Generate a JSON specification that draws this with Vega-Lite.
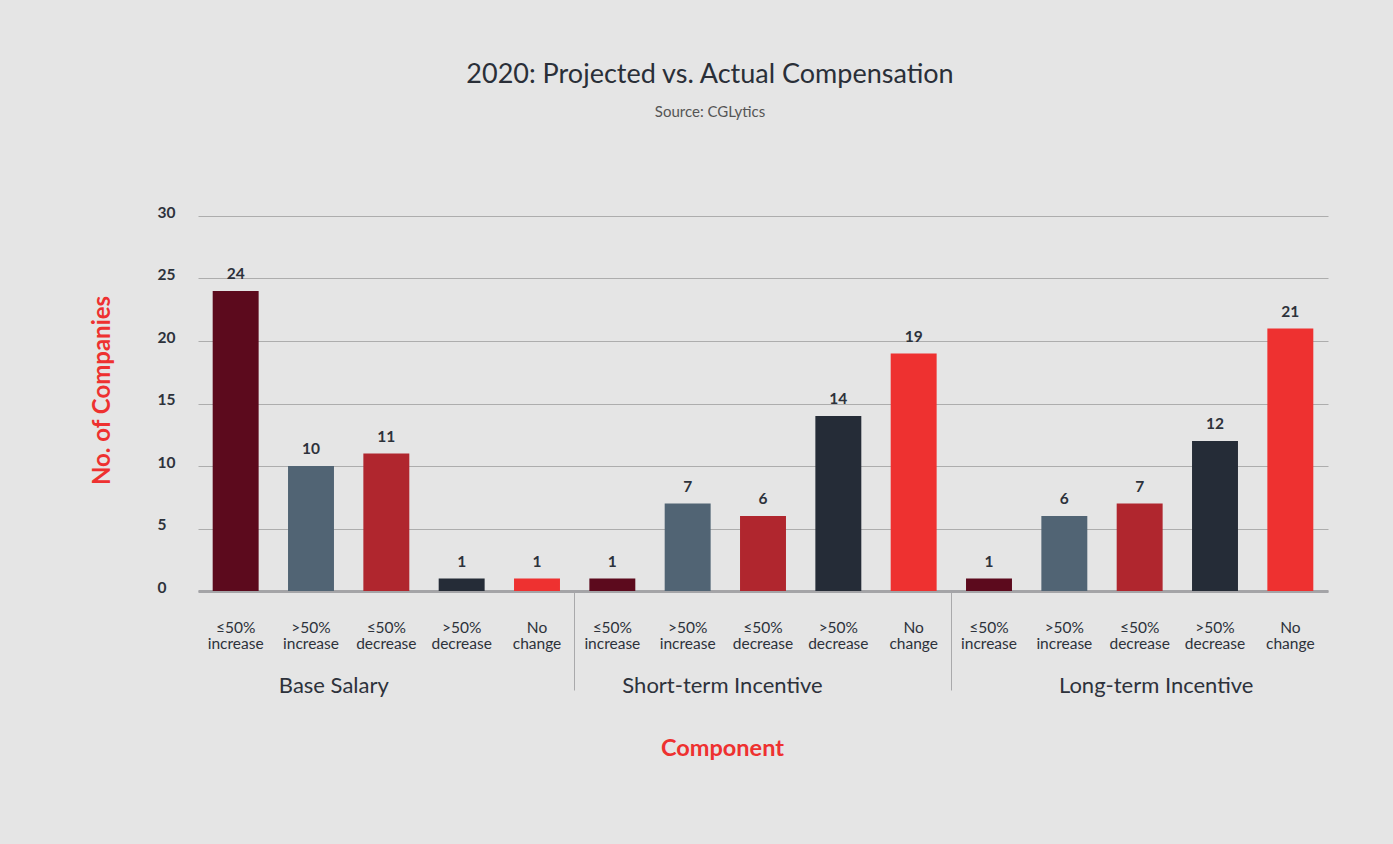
{
  "$schema": "https://vega.github.io/schema/vega-lite/v6.json",
  "autosize": {"type": "none"},
  "width": 1130,
  "height": 375,
  "padding": {"left": 198, "top": 216, "right": 65, "bottom": 253},
  "background": "#e5e5e5",
  "config": {"view": {"stroke": null}, "font": "Lato"},
  "title": {
    "text": "2020: Projected vs. Actual Compensation",
    "subtitle": "Source: CGLytics",
    "anchor": "middle",
    "dx": -53,
    "font": "Lato",
    "fontSize": 27,
    "fontWeight": "normal",
    "color": "#2a2f38",
    "subtitleFont": "Lato",
    "subtitleFontSize": 15,
    "subtitleColor": "#555555",
    "subtitlePadding": 16,
    "offset": 84
  },
  "data": {
    "values": [
      {"group": "Base Salary", "cat": "≤50% increase", "key": "Base Salary|≤50% increase", "value": 24},
      {"group": "Base Salary", "cat": ">50% increase", "key": "Base Salary|>50% increase", "value": 10},
      {"group": "Base Salary", "cat": "≤50% decrease", "key": "Base Salary|≤50% decrease", "value": 11},
      {"group": "Base Salary", "cat": ">50% decrease", "key": "Base Salary|>50% decrease", "value": 1},
      {"group": "Base Salary", "cat": "No change", "key": "Base Salary|No change", "value": 1},
      {"group": "Short-term Incentive", "cat": "≤50% increase", "key": "Short-term Incentive|≤50% increase", "value": 1},
      {"group": "Short-term Incentive", "cat": ">50% increase", "key": "Short-term Incentive|>50% increase", "value": 7},
      {"group": "Short-term Incentive", "cat": "≤50% decrease", "key": "Short-term Incentive|≤50% decrease", "value": 6},
      {"group": "Short-term Incentive", "cat": ">50% decrease", "key": "Short-term Incentive|>50% decrease", "value": 14},
      {"group": "Short-term Incentive", "cat": "No change", "key": "Short-term Incentive|No change", "value": 19},
      {"group": "Long-term Incentive", "cat": "≤50% increase", "key": "Long-term Incentive|≤50% increase", "value": 1},
      {"group": "Long-term Incentive", "cat": ">50% increase", "key": "Long-term Incentive|>50% increase", "value": 6},
      {"group": "Long-term Incentive", "cat": "≤50% decrease", "key": "Long-term Incentive|≤50% decrease", "value": 7},
      {"group": "Long-term Incentive", "cat": ">50% decrease", "key": "Long-term Incentive|>50% decrease", "value": 12},
      {"group": "Long-term Incentive", "cat": "No change", "key": "Long-term Incentive|No change", "value": 21}
    ]
  },
  "layer": [
    {
      "layer": [
        {
          "mark": {"type": "bar", "width": {"band": 0.61}},
          "encoding": {
            "x": {
              "field": "key", "type": "nominal", "sort": null,
              "scale": {"paddingInner": 0, "paddingOuter": 0},
              "axis": {
                "orient": "bottom",
                "title": null,
                "labelExpr": "split(split(datum.label,'|')[1],' ')",
                "labelFont": "Lato",
                "labelFontSize": 15.5,
                "labelColor": "#2d323b",
                "labelLineHeight": 16,
                "labelAngle": 0,
                "labelBaseline": "top",
                "labelPadding": -70,
                "labelLimit": 0,
                "ticks": true,
                "tickSize": 99,
                "tickWidth": 1,
                "bandPosition": 0,
                "tickColor": {
                  "condition": {"test": "datum.value === 'Short-term Incentive|≤50% increase' || datum.value === 'Long-term Incentive|≤50% increase'", "value": "#a9a9ab"},
                  "value": "transparent"
                },
                "domain": true,
                "domainColor": "#a4a4a7",
                "domainWidth": 3,
                "grid": false
              }
            },
            "y": {
              "field": "value", "type": "quantitative",
              "scale": {"domain": [0, 30]},
              "axis": {
                "title": "No. of Companies",
                "titleFont": "Lato",
                "titleFontSize": 24,
                "titleFontWeight": "bold",
                "titleColor": "#ee3130",
                "titlePadding": 43,
                "titleY": 174,
                "values": [0, 5, 10, 15, 20, 25, 30],
                "labelAlign": "left",
                "labelPadding": 41,
                "labelOffset": -4,
                "labelFont": "Lato",
                "labelFontSize": 15.5,
                "labelFontWeight": "bold",
                "labelColor": "#2d323b",
                "ticks": false,
                "domain": false,
                "grid": true,
                "gridColor": "#adadad",
                "gridWidth": 1.2
              }
            },
            "color": {
              "field": "cat", "type": "nominal",
              "scale": {
                "domain": ["≤50% increase", ">50% increase", "≤50% decrease", ">50% decrease", "No change"],
                "range": ["#5c0a1d", "#516474", "#b0262e", "#252c37", "#ee3130"]
              },
              "legend": null
            }
          }
        },
        {
          "mark": {"type": "text", "font": "Lato", "fontSize": 15.5, "fontWeight": "bold", "color": "#2d323b", "baseline": "alphabetic", "dy": -12},
          "encoding": {
            "x": {"field": "key", "type": "nominal", "sort": null},
            "y": {"field": "value", "type": "quantitative"},
            "text": {"field": "value", "type": "quantitative"}
          }
        }
      ]
    },
    {
      "mark": {"type": "point", "opacity": 0},
      "encoding": {
        "x": {
          "field": "group", "type": "nominal", "sort": null,
          "axis": {
            "orient": "bottom",
            "title": "Component",
            "titleFont": "Lato",
            "titleFontSize": 23.5,
            "titleFontWeight": "bold",
            "titleColor": "#ee3130",
            "titlePadding": 40,
            "titleX": 524,
            "domain": false,
            "ticks": false,
            "grid": false,
            "labelAngle": 0,
            "labelBaseline": "top",
            "labelPadding": 84,
            "labelLimit": 0,
            "labelFont": "Lato",
            "labelFontSize": 22,
            "labelColor": "#2d323b",
            "labelOffset": {
              "condition": [
                {"test": "datum.value === 'Base Salary'", "value": -53},
                {"test": "datum.value === 'Short-term Incentive'", "value": -41}
              ],
              "value": 16
            }
          }
        }
      }
    }
  ],
  "resolve": {"scale": {"x": "independent"}, "axis": {"x": "independent"}}
}
